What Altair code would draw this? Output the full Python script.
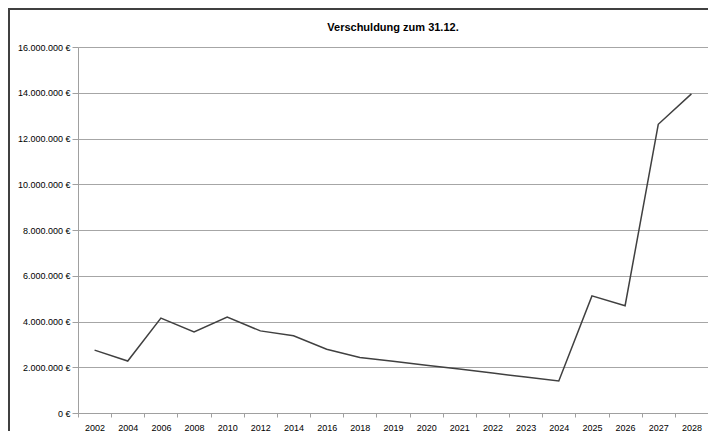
import altair as alt
import pandas as pd

years = ["2002", "2004", "2006", "2008", "2010", "2012", "2014", "2016", "2018",
         "2019", "2020", "2021", "2022", "2023", "2024", "2025", "2026", "2027", "2028"]
debt = [2750000, 2270000, 4150000, 3540000, 4190000, 3590000, 3380000, 2790000, 2430000,
        2260000, 2090000, 1920000, 1750000, 1570000, 1400000, 5120000, 4690000, 12620000, 13950000]

df = pd.DataFrame({"Jahr": years, "Verschuldung": debt})

W, H = 630, 366
PAD_L, PAD_T = 70, 39
TOTAL_W, TOTAL_H = 700, 423

line = alt.Chart(df).mark_line(color="#404040", strokeWidth=1.5).encode(
    x=alt.X("Jahr:O", sort=years, bandPosition=0.5,
            scale=alt.Scale(type="band", paddingInner=0, paddingOuter=0),
            axis=alt.Axis(title=None, labelAngle=0, tickBand="extent", grid=False,
                          domainColor="#a0a0a0", tickColor="#a0a0a0", tickSize=4,
                          labelFont="Liberation Sans", labelFontSize=9, labelColor="#000000",
                          labelPadding=6)),
    y=alt.Y("Verschuldung:Q",
            scale=alt.Scale(domain=[0, 16000000], nice=False),
            axis=alt.Axis(title=None, values=list(range(0, 16000001, 2000000)),
                          labelExpr="replace(format(datum.value, ',.0f'), /,/g, '.') + ' €'",
                          grid=True, gridColor="#a6a6a6", domainColor="#a0a0a0",
                          tickColor="#a0a0a0", tickSize=6, labelPadding=2,
                          labelFont="Liberation Sans", labelFontSize=9, labelColor="#000000"))
)

frame = alt.Data(values=[{"a": 1}])
top_border = alt.Chart(frame).mark_rule(color="#404040", strokeWidth=2).encode(
    x=alt.value(-PAD_L), x2=alt.value(TOTAL_W - PAD_L), y=alt.value(-PAD_T + 1))
left_border = alt.Chart(frame).mark_rule(color="#404040", strokeWidth=2).encode(
    x=alt.value(-PAD_L + 1), y=alt.value(-PAD_T), y2=alt.value(TOTAL_H - PAD_T))

chart = alt.layer(line, top_border, left_border).properties(
    width=W, height=H,
    title=alt.TitleParams("Verschuldung zum 31.12.", font="Liberation Sans", fontSize=11,
                          fontWeight="bold", color="#000000", anchor="middle", offset=0, dy=26),
    autosize=alt.AutoSizeParams(type="none"),
    padding={"left": PAD_L, "top": PAD_T, "right": TOTAL_W - PAD_L - W, "bottom": TOTAL_H - PAD_T - H},
).configure_view(stroke=None).configure(background="#ffffff")

chart.save("out.html", embed_options={"renderer": "svg", "actions": False})
